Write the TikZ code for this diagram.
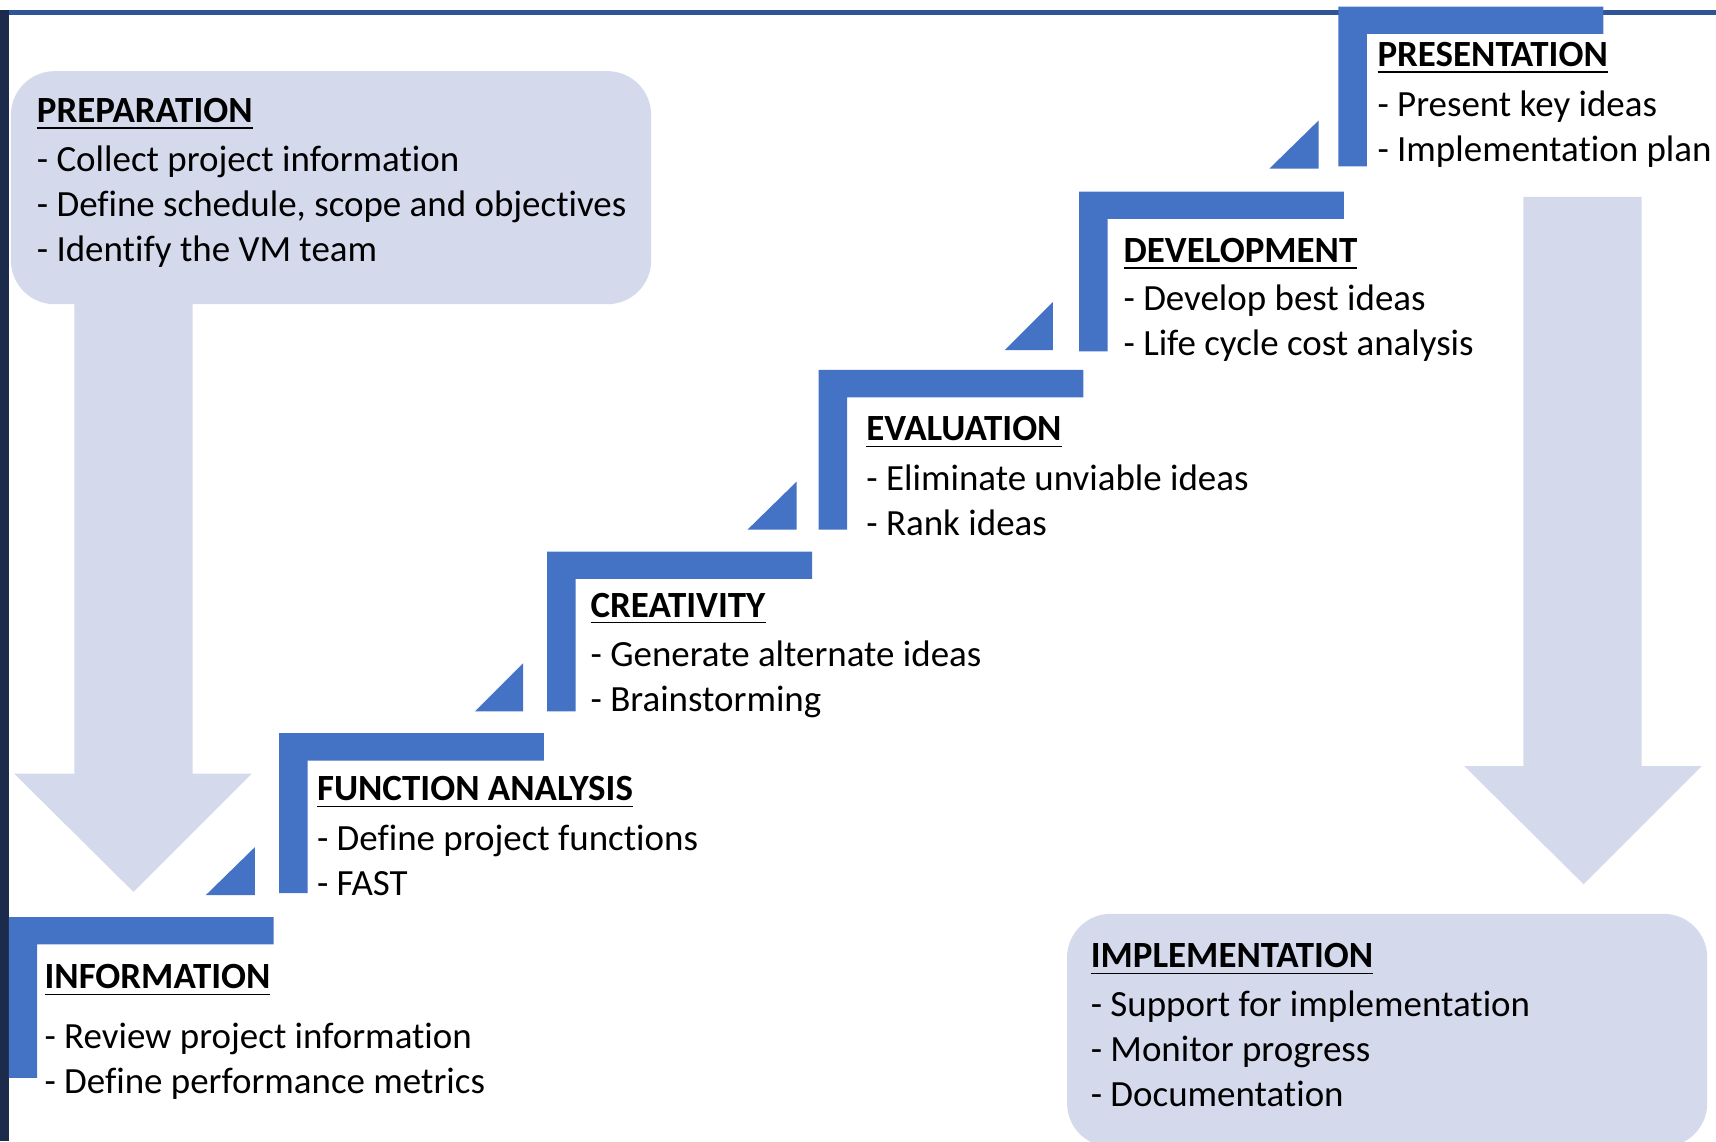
\documentclass[tikz,border=0pt]{standalone}
\usepackage{fontspec}
\setmainfont{Carlito}[Ligatures=NoCommon]
\usetikzlibrary{positioning}

\definecolor{stepblue}{HTML}{4472C4}
\definecolor{paleblue}{HTML}{D4D9EC}
\definecolor{frameblue}{HTML}{1C2B4B}
\definecolor{topline}{HTML}{2F5597}
\newcommand{\stephead}[1]{\underline{\textbf{#1}}}

\begin{document}
\begin{tikzpicture}[x=0.01cm, y=-0.01cm,
    txt/.style={anchor=base west, inner sep=0pt, align=left,
                font=\fontsize{9.6}{11.7}\selectfont},
    stepbar/.style={fill=stepblue},
    pale/.style={fill=paleblue}]
      \useasboundingbox (0,0) rectangle (1568,1043);
      % frame
      \fill [frameblue] (0,9) rectangle (8,1043);
      \fill [topline]   (8,9) rectangle (1568,14);
      % pale boxes and the two big arrows
      \fill [pale, rounded corners=0.4cm] (10,65) rectangle (595,278);
      \fill [pale, rounded corners=0.4cm] (975,835) rectangle (1560,1048);
      \fill [pale] (68,270) -- (176,270) -- (176,707) -- (230,707) -- (122,815) -- (13,707) -- (68,707) -- cycle;
      \fill [pale] (1392,180) -- (1500,180) -- (1500,700) -- (1555,700) -- (1447,808) -- (1338,700) -- (1392,700) -- cycle;
      % steps
      \fill [stepbar] (8,838) -- (250,838) -- (250,863) -- (34,863) -- (34,985) -- (8,985) -- cycle;
      \fill [stepbar] (255,670) -- (497,670) -- (497,695) -- (281,695) -- (281,816) -- (255,816) -- cycle;
      \fill [stepbar] (500,504) -- (742,504) -- (742,529) -- (526,529) -- (526,650) -- (500,650) -- cycle;
      \fill [stepbar] (748,338) -- (990,338) -- (990,363) -- (774,363) -- (774,484) -- (748,484) -- cycle;
      \fill [stepbar] (986,175) -- (1228,175) -- (1228,200) -- (1012,200) -- (1012,321) -- (986,321) -- cycle;
      \fill [stepbar] (1223,6) -- (1465,6) -- (1465,31) -- (1249,31) -- (1249,152) -- (1223,152) -- cycle;
      % small wedges
      \fill [stepbar] (188,818) -- (233,818) -- (233,774) -- cycle;
      \fill [stepbar] (434,650) -- (478,650) -- (478,606) -- cycle;
      \fill [stepbar] (683,484) -- (728,484) -- (728,440) -- cycle;
      \fill [stepbar] (918,320) -- (962,320) -- (962,276) -- cycle;
      \fill [stepbar] (1160,154) -- (1205,154) -- (1205,110) -- cycle;
      % texts (anchored at the baseline of the last line)
      \node [txt] (prep) at (33,239) {\stephead{PREPARATION}\\[1.1pt]
        - Collect project information\\ - Define schedule, scope and objectives\\ - Identify the VM team};
      \node [txt] (info) at (40,999) {\stephead{INFORMATION}\\[3.7pt]
        - Review project information\\ - Define performance metrics};
      \node [txt] (func) at (289,818) {\stephead{FUNCTION ANALYSIS}\\[1.1pt]
        - Define project functions\\ - FAST};
      \node [txt] (crea) at (539,650) {\stephead{CREATIVITY}\\[1.1pt]
        - Generate alternate ideas\\ - Brainstorming};
      \node [txt] (eval) at (791,489) {\stephead{EVALUATION}\\[1.1pt]
        - Eliminate unviable ideas\\ - Rank ideas};
      \node [txt] (devel) at (1026,325) {\stephead{DEVELOPMENT}\\[0.9pt]
        - Develop best ideas\\ - Life cycle cost analysis};
      \node [txt] (pres) at (1258,148) {\stephead{PRESENTATION}\\[1.4pt]
        - Present key ideas\\ - Implementation plan};
      \node [txt] (impl) at (996,1011) {\stephead{IMPLEMENTATION}\\[0.9pt]
        - Support for implementation\\ - Monitor progress\\ - Documentation};
\end{tikzpicture}
\end{document}
